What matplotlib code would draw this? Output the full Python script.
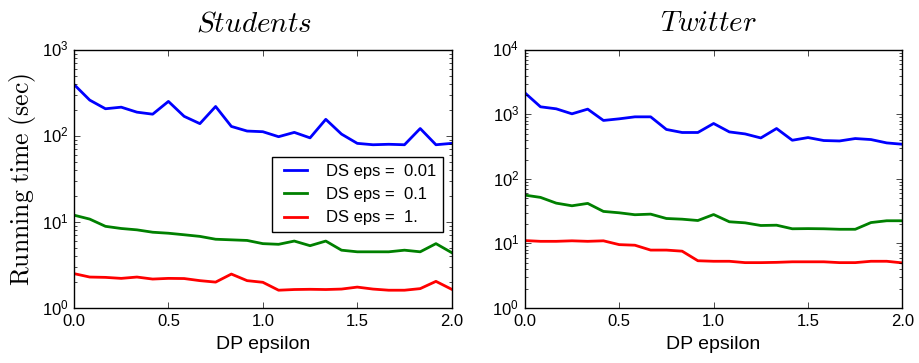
import numpy as np
from matplotlib import pyplot as plt

plt.style.use('classic')
plt.rcParams['mathtext.fontset'] = 'cm'
plt.rcParams['font.family'] = ['Liberation Sans', 'DejaVu Sans']

eps = np.linspace(0.0, 2.0, 25)

students_001 = [397, 261, 207, 216, 189, 179, 252, 169, 139, 220, 129, 114, 112,
                98, 110, 95, 156, 105, 82, 79, 80, 79, 122, 79, 82]
students_01 = [12.0, 10.8, 8.9, 8.4, 8.1, 7.6, 7.4, 7.1, 6.8, 6.3, 6.2, 6.1, 5.6,
               5.5, 6.0, 5.3, 6.0, 4.7, 4.5, 4.5, 4.5, 4.7, 4.5, 5.6, 4.4]
students_1 = [2.51, 2.29, 2.27, 2.21, 2.29, 2.17, 2.21, 2.2, 2.08, 2.0, 2.48, 2.08, 1.99,
              1.61, 1.64, 1.65, 1.64, 1.66, 1.75, 1.66, 1.61, 1.61, 1.68, 2.04, 1.65]

twitter_001 = [2170, 1313, 1222, 1022, 1208, 807, 855, 918, 918, 585, 525, 525, 724,
               536, 499, 432, 605, 398, 438, 394, 388, 423, 408, 362, 345]
twitter_01 = [56.2, 51.8, 42.2, 38.4, 41.8, 31.4, 29.9, 27.9, 28.5, 24.4, 23.8, 22.7, 28.1,
              21.7, 20.9, 19.0, 19.2, 16.9, 17.0, 16.9, 16.6, 16.6, 21.1, 22.5, 22.5]
twitter_1 = [11.1, 10.8, 10.8, 11.0, 10.8, 11.0, 9.6, 9.4, 7.9, 7.9, 7.6, 5.4, 5.3,
             5.3, 5.05, 5.05, 5.1, 5.2, 5.2, 5.2, 5.05, 5.05, 5.3, 5.3, 5.0]

labels = ['DS eps =  0.01', 'DS eps =  0.1', 'DS eps =  1.']
colors = ['b', 'g', 'r']

fig = plt.figure(figsize=(9.19, 3.63), dpi=100, facecolor='white')
ax1 = fig.add_axes([0.0805, 0.1515, 0.411, 0.711])
ax2 = fig.add_axes([0.571, 0.1515, 0.411, 0.711])

for s, c, l in zip([students_001, students_01, students_1], colors, labels):
    ax1.plot(eps, s, color=c, linewidth=2, label=l)
for s, c, l in zip([twitter_001, twitter_01, twitter_1], colors, labels):
    ax2.plot(eps, s, color=c, linewidth=2, label=l)

ax1.set_yscale('log')
ax2.set_yscale('log')
ax1.set_ylim(1, 1e3)
ax2.set_ylim(1, 1e4)
for ax in (ax1, ax2):
    ax.set_xlim(0, 2)
    ax.set_xticks([0.0, 0.5, 1.0, 1.5, 2.0])
    ax.set_xlabel('DP epsilon', fontsize=14)
    ax.tick_params(labelsize=12)

ax1.set_title('$Students$', fontsize=21, x=0.477, y=1.045)
ax2.set_title('$Twitter$', fontsize=21, x=0.486, y=1.045)
ax1.set_ylabel(r'$\mathrm{Running\ time\ (sec)}$', fontsize=18.5)
ax1.yaxis.set_label_coords(-0.094, 0.5)

ax1.legend(loc='upper right', bbox_to_anchor=(0.976, 0.585), borderaxespad=0,
           fontsize=12, numpoints=2)

plt.savefig('out.png', dpi=100, facecolor='white')
